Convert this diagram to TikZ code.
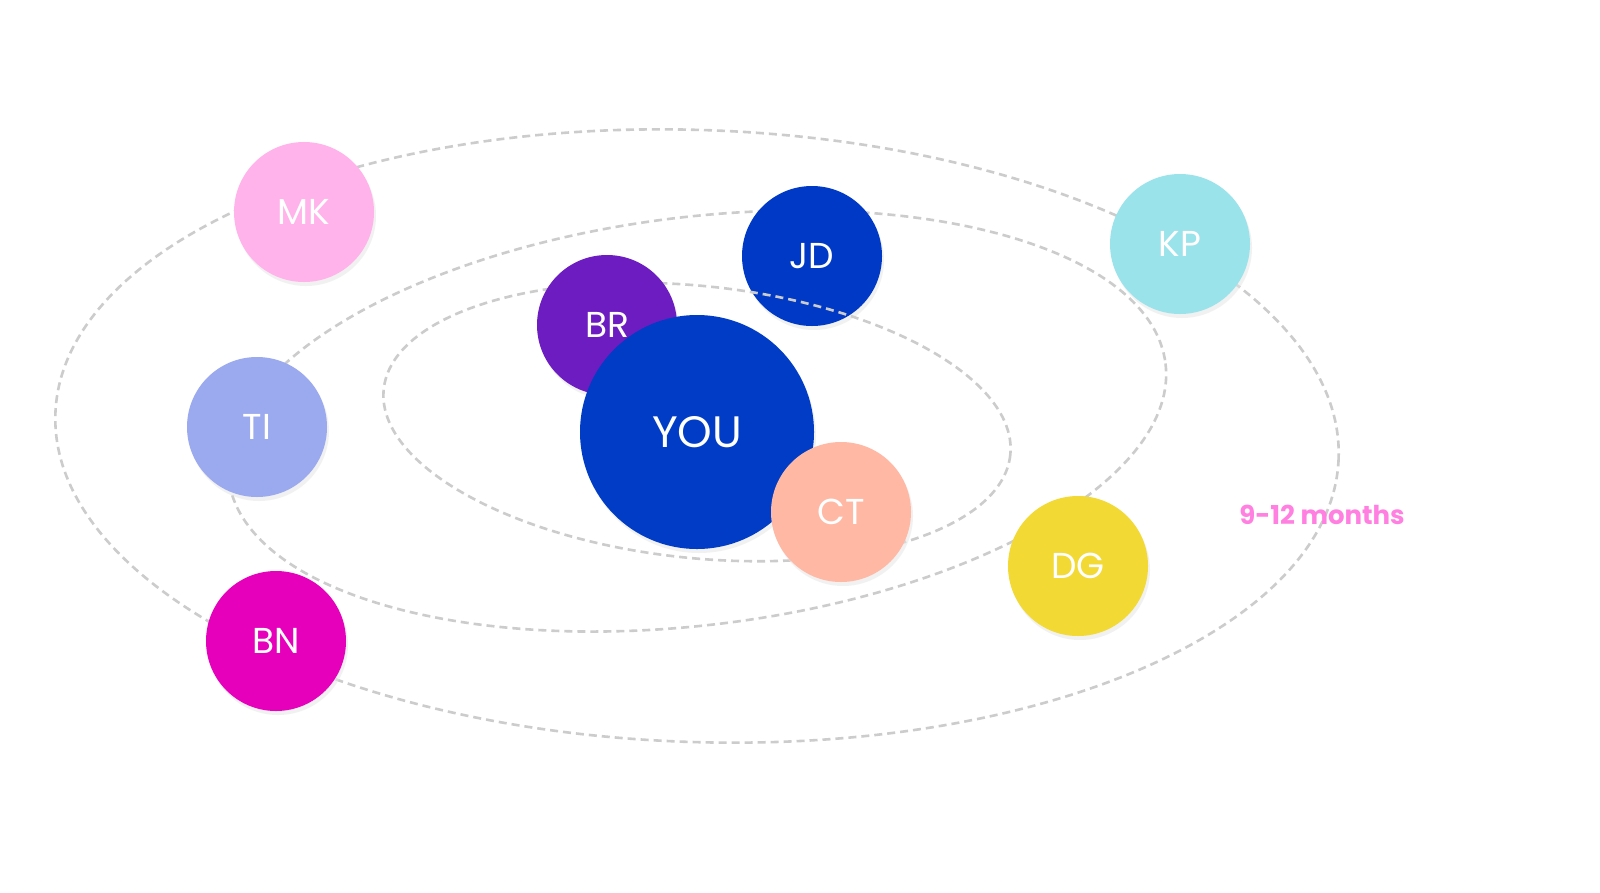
\documentclass[tikz,border=0pt]{standalone}
\usepackage{fontspec}
\setmainfont{Poppins}
\begin{document}
\begin{tikzpicture}[x=1pt,y=-1pt,
 orbit/.style={draw=black!20,line width=2.6pt,dash pattern=on 8pt off 5pt},
 p/.style={circle,minimum size=140pt,inner sep=0pt,text=white,font=\fontsize{36}{36}\selectfont},
 sh/.style={preaction={fill=black!10,opacity=0.5,transform canvas={xshift=2pt,yshift=-4pt}}}]
\fill[white] (0,0) rectangle (1600,892);
\useasboundingbox (0,0) rectangle (1600,892);
\draw[orbit,rotate around={-2:(697,436)}] (697,436) ellipse [x radius=642,y radius=306];
\draw[orbit,rotate around={7:(697,421)}] (697,421) ellipse [x radius=472,y radius=204];
\node[p,sh,fill={rgb,255:red,255;green,179;blue,234}] (MK) at (304,212) {MK};
\node[p,sh,fill={rgb,255:red,154;green,227;blue,234}] (KP) at (1180,244) {KP};
\node[p,sh,fill={rgb,255:red,155;green,169;blue,238}] (TI) at (257,427) {TI};
\node[p,sh,fill={rgb,255:red,242;green,217;blue,52}] (DG) at (1078,566) {DG};
\node[p,sh,fill={rgb,255:red,230;green,0;blue,187}] (BN) at (276,641) {BN};
\node[p,sh,fill={rgb,255:red,0;green,57;blue,198}] (JD) at (812,256) {JD};
\draw[orbit,rotate around={-6:(697,422)}] (697,422) ellipse [x radius=315,y radius=136];
\node[p,sh,fill={rgb,255:red,108;green,28;blue,192}] (BR) at (607,325) {BR};
\node[p,sh,minimum size=234pt,fill={rgb,255:red,0;green,60;blue,197},font=\fontsize{44}{44}\selectfont] (YOU) at (697,432) {YOU};
\node[p,sh,fill={rgb,255:red,255;green,184;blue,163}] (CT) at (841,512) {CT};
\node[text={rgb,255:red,255;green,128;blue,224},font=\fontsize{26}{26}\selectfont\bfseries] (lab) at (1322,515) {9-12 months};
\end{tikzpicture}
\end{document}
